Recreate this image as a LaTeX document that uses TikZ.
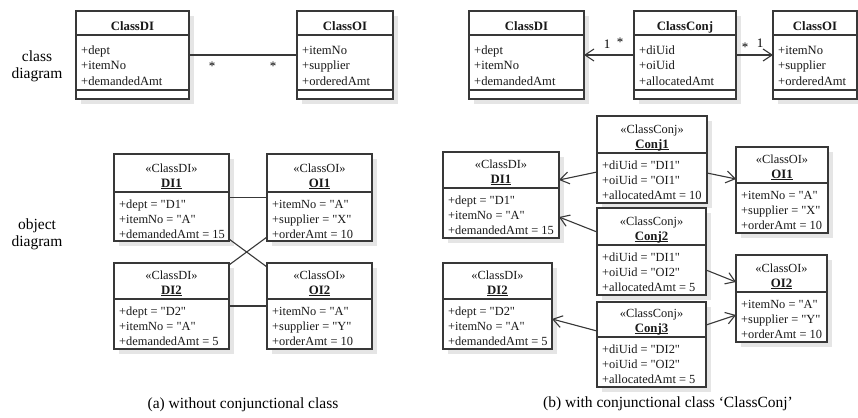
\documentclass[tikz,border=0pt]{standalone}
\usepackage{fontspec}
\setmainfont{Liberation Serif}
\usetikzlibrary{arrows.meta}
\definecolor{shadowc}{gray}{0.9}
\definecolor{linec}{gray}{0.22}
\newcommand\qt[1]{\textquotedbl#1\textquotedbl}
\tikzset{
 boxshadow/.style={fill=shadowc},
 umlframe/.style={draw=linec, line width=1.1pt, fill=white, inner sep=0pt, outer sep=0pt},
 umlline/.style={draw=linec, line width=1.1pt},
 conn/.style={draw=linec, line width=1.1pt},
 navarrow/.style={conn, -{Straight Barb[length=9pt,width=12pt,line width=1.1pt]}},
 boxtext/.style={font=\fontsize{12.4}{15}\selectfont, inner sep=0pt, text=black!90},
 boldtext/.style={font=\fontsize{12.8}{15}\selectfont\bfseries, inner sep=0pt, text=black!90},
 attrtext/.style={boxtext, align=left},
 clsattrtext/.style={attrtext, font=\fontsize{12.6}{15.5}\selectfont},
 mult/.style={font=\fontsize{13}{15}\selectfont, inner sep=0pt},
 sidelabel/.style={font=\fontsize{15.5}{17}\selectfont, align=center, inner sep=0pt},
 captiontext/.style={font=\fontsize{15.5}{17}\selectfont, inner sep=0pt},
}
\newcommand\umlframebox[6]{%
 \fill[boxshadow] (#2+5,#3+5) rectangle (#4+5,#5+5);
 \node[umlframe, minimum width=#4pt-#2pt, minimum height=#5pt-#3pt, anchor=north west] (#1) at (#2,#3) {};
 \draw[umlline] (#2,#6) -- (#4,#6);
}
% base anchor of a multi-line node = baseline of its last line
\newcommand\classbox[8]{%
 \umlframebox{#1}{#2}{#3}{#4}{#5}{#6}
 \draw[umlline] (#2,#5-9) -- (#4,#5-9);
 \node[boldtext, anchor=base] (#1-title) at ({(#2+#4)/2},#6-4.5) {#7};
 \node[clsattrtext, anchor=base west] (#1-attrs) at (#2+5,#6+50.5) {#8};
}
\newcommand\objbox[9]{%
 \umlframebox{#1}{#2}{#3}{#4}{#5}{#6}
 \node[boxtext, anchor=base] (#1-stereo) at ({(#2+#4)/2},#6-19.5) {«#7»};
 \node[boldtext, anchor=base] (#1-name) at ({(#2+#4)/2},#6-5) {\underline{\smash{#8}}};
 \node[attrtext, anchor=base west] (#1-attrs) at (#2+5,#6+46) {#9};
}
\begin{document}
\begin{tikzpicture}[x=1pt,y=-1pt]
\fill[white] (0,0) rectangle (858,417);
\useasboundingbox (0,0) rectangle (858,417);

% side labels
\node[sidelabel] (lblclass) at (37,66) {class\\diagram};
\node[sidelabel] (lblobj) at (37,234) {object\\diagram};

% (a) class diagram
\classbox{cDIa}{76}{11}{189}{99}{35}{ClassDI}{+dept\\+itemNo\\+demandedAmt}
\classbox{cOIa}{297}{11}{393}{99}{35}{ClassOI}{+itemNo\\+supplier\\+orderedAmt}
\draw[conn] (cDIa.east) -- (cOIa.west);
\node[mult] (ma1) at (212,66) {*};
\node[mult] (ma2) at (273,66) {*};

% (b) class diagram
\classbox{cDIb}{469}{11}{584}{99}{35}{ClassDI}{+dept\\+itemNo\\+demandedAmt}
\classbox{cConj}{634}{11}{736}{99}{35}{ClassConj}{+diUid\\+oiUid\\+allocatedAmt}
\classbox{cOIb}{773}{11}{857}{99}{35}{ClassOI}{+itemNo\\+supplier\\+orderedAmt}
\draw[navarrow] (cConj.west) -- (cDIb.east);
\draw[navarrow] (cConj.east) -- (cOIb.west);
\node[mult] (mb1) at (607,44) {1};
\node[mult] (mb2) at (620,42) {*};
\node[mult] (mb3) at (745,47) {*};
\node[mult] (mb4) at (760,43) {1};

% (a) object diagram
\objbox{oDI1a}{114}{154}{229}{241}{192}{ClassDI}{DI1}{+dept = \qt{D1}\\+itemNo = \qt{A}\\+demandedAmt = 15}
\objbox{oOI1a}{267}{154}{372}{241}{192}{ClassOI}{OI1}{+itemNo = \qt{A}\\+supplier = \qt{X}\\+orderAmt = 10}
\objbox{oDI2a}{114}{263}{229}{349}{299}{ClassDI}{DI2}{+dept = \qt{D2}\\+itemNo = \qt{A}\\+demandedAmt = 5}
\objbox{oOI2a}{267}{263}{372}{349}{299}{ClassOI}{OI2}{+itemNo = \qt{A}\\+supplier = \qt{Y}\\+orderAmt = 10}
\draw[conn] (oDI1a.east) -- (oOI1a.west);
\draw[conn] (oDI2a.east) -- (oOI2a.west);
\draw[conn] (oDI1a.south east |- 0,239) -- (oOI2a.north west |- 0,267);
\draw[conn] (oDI2a.north east |- 0,265) -- (oOI1a.south west |- 0,237);

% (b) object diagram
\objbox{oConj1}{597}{116}{707}{203}{153}{ClassConj}{Conj1}{+diUid = \qt{DI1}\\+oiUid = \qt{OI1}\\+allocatedAmt = 10}
\objbox{oDI1b}{443}{152}{559}{238}{188}{ClassDI}{DI1}{+dept = \qt{D1}\\+itemNo = \qt{A}\\+demandedAmt = 15}
\objbox{oOI1b}{736}{147}{828}{233}{183}{ClassOI}{OI1}{+itemNo = \qt{A}\\+supplier = \qt{X}\\+orderAmt = 10}
\objbox{oConj2}{597}{208}{706}{295}{245}{ClassConj}{Conj2}{+diUid = \qt{DI1}\\+oiUid = \qt{OI2}\\+allocatedAmt = 5}
\objbox{oDI2b}{443}{263}{552}{349}{299}{ClassDI}{DI2}{+dept = \qt{D2}\\+itemNo = \qt{A}\\+demandedAmt = 5}
\objbox{oOI2b}{736}{255}{827}{342}{292}{ClassOI}{OI2}{+itemNo = \qt{A}\\+supplier = \qt{Y}\\+orderAmt = 10}
\objbox{oConj3}{597}{302}{706}{387}{337}{ClassConj}{Conj3}{+diUid = \qt{DI2}\\+oiUid = \qt{OI2}\\+allocatedAmt = 5}
\draw[navarrow] (oConj1.west |- 0,172) -- (oDI1b.east |- 0,180);
\draw[navarrow] (oConj1.east |- 0,173) -- (oOI1b.west |- 0,179);
\draw[navarrow] (oConj2.west |- 0,232) -- (oDI1b.east |- 0,217);
\draw[navarrow] (oConj2.east |- 0,270) -- (oOI2b.west |- 0,282);
\draw[navarrow] (oConj3.east |- 0,325) -- (oOI2b.west |- 0,315);
\draw[navarrow] (oConj3.west |- 0,331) -- (oDI2b.east |- 0,319);

% captions
\node[captiontext] (capa) at (243,405) {(a) without conjunctional class};
\node[captiontext] (capb) at (668,404) {(b) with conjunctional class ‘ClassConj’};
\end{tikzpicture}
\end{document}
